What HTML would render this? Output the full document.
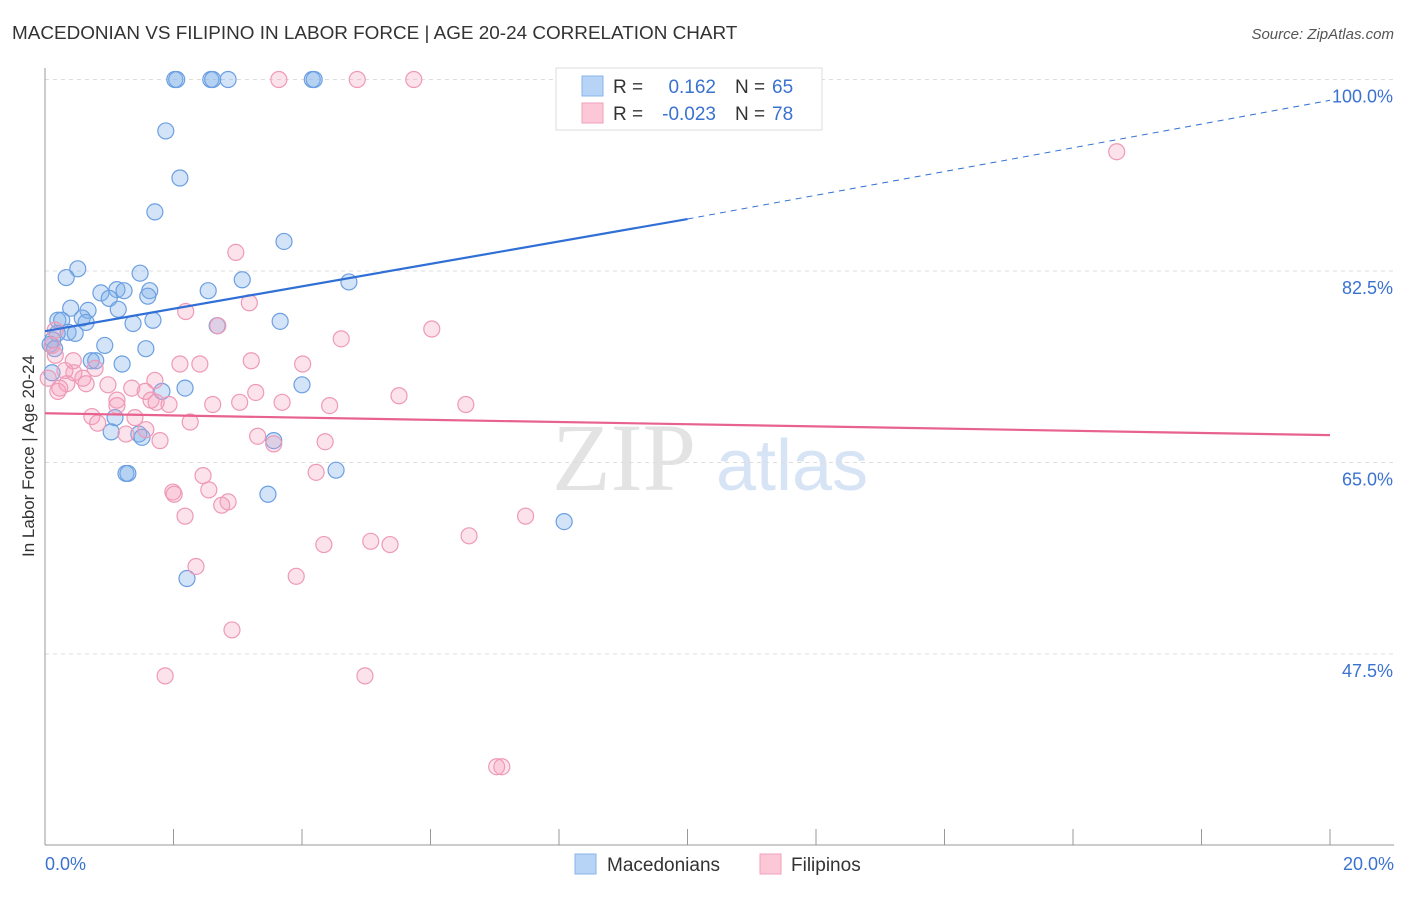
<!DOCTYPE html>
<html><head><meta charset="utf-8"><style>
body{margin:0;background:#fff;font-family:"Liberation Sans",sans-serif}
</style></head><body>
<svg id="c" width="1406" height="892" xmlns="http://www.w3.org/2000/svg" font-family="Liberation Sans, sans-serif">
<text x="12" y="39" font-size="18.9" fill="#333">MACEDONIAN VS FILIPINO IN LABOR FORCE | AGE 20-24 CORRELATION CHART</text>
<text x="1394" y="39" font-size="15" fill="#555" font-style="italic" text-anchor="end">Source: ZipAtlas.com</text>
<text x="0" y="0" transform="translate(34,456) rotate(-90)" font-size="17" fill="#333" text-anchor="middle">In Labor Force | Age 20-24</text>
<g><text x="552" y="490" font-size="96" font-family="Liberation Serif, serif" fill="#e3e3e3">ZIP</text><text x="716" y="490" font-size="72" fill="#d6e4f5">atlas</text></g>
<g id="grid"></g><g id="marks"></g><g id="lines"></g>
<g>
<rect x="556" y="68" width="266" height="62" fill="#fff" stroke="#ddd"/>
<rect x="582" y="76" width="21" height="20" fill="#b7d3f5" stroke="#8ab4ea"/>
<rect x="582" y="103" width="21" height="20" fill="#fcc8d7" stroke="#f0a0ba"/>
<text x="613" y="93" font-size="19" fill="#333">R =</text><text x="716" y="93" font-size="19" fill="#3a72d0" text-anchor="end">0.162</text>
<text x="735" y="93" font-size="19" fill="#333">N =</text><text x="772" y="93" font-size="19" fill="#3a72d0">65</text>
<text x="613" y="120" font-size="19" fill="#333">R =</text><text x="716" y="120" font-size="19" fill="#3a72d0" text-anchor="end">-0.023</text>
<text x="735" y="120" font-size="19" fill="#333">N =</text><text x="772" y="120" font-size="19" fill="#3a72d0">78</text>
</g>
<g>
<rect x="575" y="854" width="21" height="20" fill="#b7d3f5" stroke="#8ab4ea"/>
<text x="607" y="871" font-size="19" fill="#333">Macedonians</text>
<rect x="760" y="854" width="21" height="20" fill="#fcc8d7" stroke="#f0a0ba"/>
<text x="791" y="871" font-size="19" fill="#333">Filipinos</text>
</g>
</svg>
<script>
const yTicks=[100,82.5,65,47.5];
const yTickLabels=["100.0%","82.5%","65.0%","47.5%"];
const xTicks=[0,2,4,6,8,10,12,14,16,18,20];
const xEndLabels=["0.0%","20.0%"];
const macX=[2.02,2.05,2.58,2.61,2.85,4.16,4.19,8.22,1.88,2.10,1.71,3.72,0.51,0.33,1.48,3.07,4.73,0.87,1.12,1.23,1.63,2.54,1.60,1.00,0.40,0.67,1.14,0.58,0.20,0.26,0.64,1.68,3.66,1.37,2.68,0.36,0.47,0.19,0.12,0.93,1.57,0.72,0.79,1.20,0.11,2.18,4.00,1.82,1.09,1.03,1.46,1.51,3.56,4.53,1.26,1.29,3.47,8.08,2.21,0.08,0.15];
const macY=[100,100,100,100,100,100,100,100,95.3,91.0,87.9,85.2,82.7,81.9,82.3,81.7,81.5,80.5,80.8,80.7,80.7,80.7,80.2,80.0,79.1,78.9,79.0,78.2,78.0,78.0,77.8,78.0,77.9,77.7,77.5,76.9,76.8,76.8,76.2,75.7,75.4,74.3,74.3,74.0,73.2,71.8,72.1,71.5,69.1,67.8,67.6,67.3,67.0,64.3,64.0,64.0,62.1,59.6,54.4,75.8,75.4];
const filX=[3.64,4.86,5.74,16.68,2.97,3.18,2.19,2.69,6.02,4.61,0.16,0.11,0.16,0.44,2.10,2.41,3.21,4.01,0.78,0.45,0.31,0.59,0.98,1.35,1.71,0.34,0.64,0.20,1.56,3.28,5.51,1.12,1.65,1.12,1.73,1.93,2.61,3.03,3.69,4.43,6.55,0.73,1.40,2.26,0.82,1.57,1.26,3.31,1.79,3.56,4.36,4.22,2.46,1.99,2.01,2.55,2.85,2.75,2.18,7.48,6.60,4.34,5.07,5.37,3.91,2.35,2.91,1.87,4.98,7.03,7.11,0.05,0.23];
const filY=[100,100,100,93.4,84.2,79.6,78.8,77.5,77.2,76.3,77.1,75.7,74.8,74.3,74.0,74.0,74.3,74.0,73.6,73.2,73.4,72.7,72.1,71.8,72.5,72.2,72.2,71.5,71.5,71.4,71.1,70.7,70.7,70.2,70.5,70.3,70.3,70.5,70.5,70.2,70.3,69.2,69.1,68.7,68.6,68.0,67.6,67.4,67.0,66.7,66.9,64.1,63.8,62.3,62.1,62.5,61.4,61.1,60.1,60.1,58.3,57.5,57.8,57.5,54.6,55.5,49.7,45.5,45.5,37.2,37.2,72.7,71.8];
const macTrend=[[0,77.0],[10,87.25],[20,98.1]];
const filTrend=[[0,69.5],[20,67.5]];
const NS="http://www.w3.org/2000/svg";
const sx=v=>45+v*64.25, sy=v=>79.5+(100-v)*10.943;
function mk(t,a,p){const e=document.createElementNS(NS,t);for(const k in a)e.setAttribute(k,a[k]);p.appendChild(e);return e;}
const grid=document.getElementById('grid'),marks=document.getElementById('marks'),lines=document.getElementById('lines');
yTicks.forEach((v,i)=>{
 const l=mk('line',{x1:45,x2:1394,y1:sy(v),y2:sy(v),stroke:'#ddd','stroke-dasharray':'4,4'},grid);
 
 
 const t=mk('text',{x:1393,y:sy(v)+23,'font-size':18,fill:'#3a72d0','text-anchor':'end'},grid);t.textContent=yTickLabels[i];
 
 
});
mk('line',{x1:45,x2:45,y1:68,y2:845,stroke:'#999'},grid);
mk('line',{x1:45,x2:1394,y1:845,y2:845,stroke:'#999'},grid);
xTicks.forEach(v=>{const l=mk('line',{x1:sx(v),x2:sx(v),y1:829,y2:845,stroke:'#999'},grid);
 
 });
let t0=mk('text',{x:45,y:870,'font-size':18,fill:'#3a72d0'},grid);t0.textContent=xEndLabels[0];


let t1=mk('text',{x:1394,y:870,'font-size':18,fill:'#3a72d0','text-anchor':'end'},grid);t1.textContent=xEndLabels[1];


macX.forEach((x,i)=>{const c=mk('circle',{cx:sx(x),cy:sy(macY[i]),r:8,fill:'rgba(130,178,235,0.35)',stroke:'#6c9fe2','stroke-width':1.2},marks);
 
 });
filX.forEach((x,i)=>{const c=mk('circle',{cx:sx(x),cy:sy(filY[i]),r:8,fill:'rgba(245,160,190,0.3)',stroke:'#ee9ab6','stroke-width':1.2},marks);
 
 });
const b1=mk('line',{x1:sx(macTrend[0][0]),y1:sy(macTrend[0][1]),x2:sx(macTrend[1][0]),y2:sy(macTrend[1][1]),stroke:'#2f6fd6','stroke-width':2.2},lines);


const b2=mk('line',{x1:sx(macTrend[1][0]),y1:sy(macTrend[1][1]),x2:sx(macTrend[2][0]),y2:sy(macTrend[2][1]),stroke:'#2f6fd6','stroke-width':1,'stroke-dasharray':'6,5'},lines);


const p1=mk('line',{x1:sx(filTrend[0][0]),y1:sy(filTrend[0][1]),x2:sx(filTrend[1][0]),y2:sy(filTrend[1][1]),stroke:'#e8628e','stroke-width':2.2},lines);


</script>
</body></html>
